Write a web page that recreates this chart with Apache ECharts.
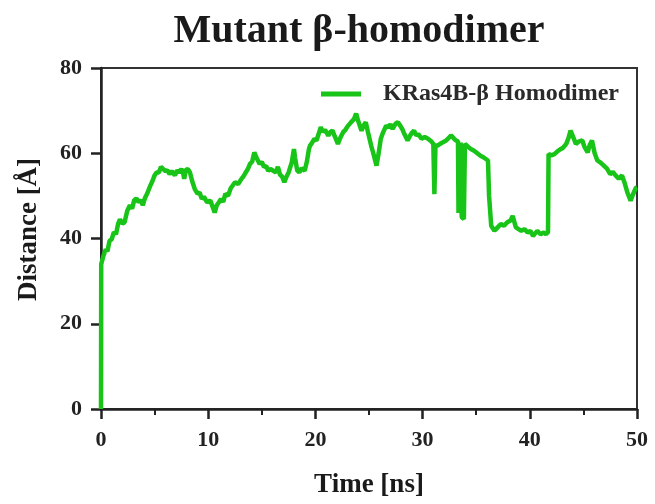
<!DOCTYPE html>
<html>
<head>
<meta charset="utf-8">
<script src="https://cdn.jsdelivr.net/npm/echarts@6/dist/echarts.min.js"></script>
<style>
  html, body { margin: 0; padding: 0; background: #fff; }
  #chart { width: 655px; height: 504px; }
</style>
</head>
<body>
<div id="chart"></div>
<script>
// 数据：时间 (ns) 和 距离 (Å)
var times = [
  0, 0.02, 0.22, 0.45, 0.6, 0.8, 1.0, 1.2, 1.4, 1.6, 1.77, 2.0, 2.2, 2.45, 2.7, 2.9, 3.1, 3.3,
  3.5, 3.7, 3.9, 4.1, 4.3, 4.6, 4.8, 5.0, 5.2, 5.4, 5.6, 5.8, 6.0, 6.2, 6.4, 6.6, 6.9, 7.1,
  7.3, 7.5, 7.65, 7.76, 7.9, 8.1, 8.3, 8.5, 8.75, 9.0, 9.2, 9.4, 9.6, 9.9, 10.2, 10.4, 10.6,
  10.8, 11.0, 11.2, 11.4, 11.6, 11.85, 12.1, 12.3, 12.5, 12.8, 13.1, 13.3, 13.5, 13.7, 13.9,
  14.1, 14.3, 14.5, 14.8, 15.0, 15.2, 15.4, 15.6, 15.8, 16.0, 16.3, 16.5, 16.7, 16.9, 17.1,
  17.3, 17.5, 17.8, 18.0, 18.1, 18.3, 18.5, 18.7, 19.0, 19.2, 19.4, 19.5, 19.7, 19.9, 20.1,
  20.3, 20.5, 20.7, 20.9, 21.2, 21.4, 21.6, 21.8, 22.1, 22.3, 22.6, 22.8, 23.0, 23.2, 23.4,
  23.6, 23.8, 24.0, 24.3, 24.5, 24.7, 24.9, 25.2, 25.4, 25.7, 25.9, 26.1, 26.3, 26.6, 26.8,
  27.0, 27.2, 27.5, 27.7, 27.9, 28.1, 28.3, 28.6, 28.8, 29.0, 29.2, 29.4, 29.6, 29.9, 30.2,
  30.5, 30.8, 31.0, 31.1, 31.2, 31.4, 31.7, 31.9, 32.2, 32.45, 32.65, 32.9, 33.1, 33.3, 33.35,
  33.45, 33.55, 33.65, 33.85, 33.95, 34.2, 34.5, 34.8, 35.1, 35.4, 35.7, 36.1, 36.2, 36.4,
  36.7, 37.0, 37.3, 37.6, 37.9, 38.2, 38.4, 38.7, 38.95, 39.2, 39.5, 39.8, 40.05, 40.3, 40.5,
  40.7, 41.0, 41.3, 41.5, 41.7, 41.75, 42.0, 42.3, 42.6, 42.9, 43.1, 43.4, 43.6, 43.8, 44.05,
  44.3, 44.6, 44.9, 45.1, 45.4, 45.6, 45.8, 46.05, 46.3, 46.6, 46.9, 47.2, 47.5, 47.75, 48.0,
  48.3, 48.6, 48.85, 49.1, 49.4, 49.65, 49.9, 50.0
]
var distances = [
  0, 34, 35.9, 37.5, 37, 39.5, 39.8, 41.5, 41, 43.5, 44.5, 43.5, 43.8, 46.5, 47.8, 47, 49, 49.4,
  48.5, 49, 47.8, 49.5, 50.5, 52.4, 53.5, 54.8, 55.5, 55.5, 56.8, 56.3, 55.8, 56, 55.1, 55.8, 54.8, 56,
  55.5, 56.3, 55.5, 54, 56, 56.3, 55.5, 53.5, 51.6, 50.5, 50.8, 49.3, 49.8, 48.5, 48.9, 47.5, 46.1,
  47.8, 48.5, 49.3, 48.6, 50.5, 50, 51.8, 52.5, 53.2, 52.8, 54, 54.6, 55.5, 56.3, 57.5,
  58, 60.2, 59, 57.5, 58, 56.8, 57, 55.9, 56.3, 56, 55.5, 56.8, 55, 54.5, 53.2,
  54.5, 55.5, 57.9, 61, 59, 56, 55.5, 56.5, 55.9, 58, 61, 61.8, 62.5, 63.4, 63,
  64.5, 66.1, 65, 65.5, 64.1, 65, 65.3, 64, 62.2, 63.5, 65, 65.5, 66.3, 66.9, 67.5,
  68, 69.3, 67.5, 65.3, 66.5, 67.3, 65, 61.8, 60, 57.1, 60, 63.4, 64.8, 66.5, 66,
  66.8, 65.7, 67, 67.3, 66.5, 65.7, 64.5, 63, 64, 64.8, 65.3, 64.2, 64.5, 63.4, 63.8,
  63.4, 62.8, 62.2, 50.4, 61.8, 61.8, 62.3, 62.6, 63, 63.6, 64.2, 63.5, 63, 62.8, 46,
  61, 62.5, 45, 44.6, 62.2, 61.6, 61, 60.6, 60, 59.4, 59, 58.3, 50, 43,
  41.8, 42.6, 43.4, 43, 43.8, 44.2, 45.3, 42.6, 42.2, 41.8, 42.2, 41.4, 41.8, 40.6, 41.2,
  41.8, 41, 41.4, 41, 41.5, 59.8, 59.5, 59.8, 60.5, 61, 61.3, 62.2, 63.5, 65.3, 63.8,
  62.2, 62.8, 63, 61.5, 60.2, 62, 63, 60, 58.3, 57.8, 57.1, 56.4, 55.1, 55.6, 54.8,
  54, 54.8, 53, 50.8, 48.9, 50.5, 51.9, 52
]
var xTicks = { min: 0, max: 50, interval: 10 }
var yTicks = { min: 0, max: 80, interval: 20 }
var seriesName = 'KRas4B-β Homodimer'

var font = 'Liberation Serif, Times New Roman, serif'
var points = times.map(function (t, i) { return [t, distances[i]] })

var myChart = echarts.init(document.getElementById('chart'))
myChart.setOption({
  animation: false,
  backgroundColor: '#fff',
  title: {
    text: 'Mutant β-homodimer',
    left: 354,
    top: 7,
    textAlign: 'center',
    textStyle: {
      fontFamily: font,
      fontWeight: 'bold',
      fontSize: 40,
      color: '#1a1a1a'
    }
  },
  legend: {
    left: 316,
    top: 77,
    icon: 'rect',
    itemWidth: 40,
    itemHeight: 5,
    textStyle: {
      fontFamily: font,
      fontWeight: 'bold',
      fontSize: 24,
      color: '#2a2a2a',
      padding: [0, 0, 0, 17]
    },
    data: [seriesName]
  },
  grid: {
    left: 101,
    right: 18,
    top: 68,
    bottom: 95,
    show: true,
    borderColor: '#333',
    borderWidth: 2
  },
  xAxis: {
    type: 'value',
    min: xTicks.min,
    max: xTicks.max,
    interval: xTicks.interval,
    name: 'Time [ns]',
    nameLocation: 'middle',
    nameGap: 63,
    nameTextStyle: {
      fontFamily: font,
      fontWeight: 'bold',
      fontSize: 27,
      color: '#1a1a1a'
    },
    axisLine: { lineStyle: { color: '#222', width: 2.5 } },
    axisTick: { length: 10, lineStyle: { color: '#222', width: 2.5 } },
    minorTick: { show: true, splitNumber: 2, length: 6, lineStyle: { color: '#222', width: 2 } },
    axisLabel: {
      margin: 20,
      fontFamily: font,
      fontWeight: 'bold',
      fontSize: 22,
      color: '#222'
    },
    splitLine: { show: false }
  },
  yAxis: {
    type: 'value',
    min: yTicks.min,
    max: yTicks.max,
    interval: yTicks.interval,
    name: 'Distance [Å]',
    nameLocation: 'middle',
    nameGap: 58,
    nameTextStyle: {
      fontFamily: font,
      fontWeight: 'bold',
      fontSize: 27,
      color: '#1a1a1a',
      padding: [0, 0, 0, 18]
    },
    axisLine: { lineStyle: { color: '#222', width: 2.5 } },
    axisTick: { length: 10, lineStyle: { color: '#222', width: 2.5 } },
    axisLabel: {
      margin: 19,
      fontFamily: font,
      fontWeight: 'bold',
      fontSize: 22,
      color: '#222'
    },
    splitLine: { show: false }
  },
  series: [
    {
      name: seriesName,
      type: 'line',
      data: points,
      symbol: 'none',
      lineStyle: { color: '#17c417', width: 4.5 },
      itemStyle: { color: '#17c417' }
    }
  ]
})
</script>
</body>
</html>
